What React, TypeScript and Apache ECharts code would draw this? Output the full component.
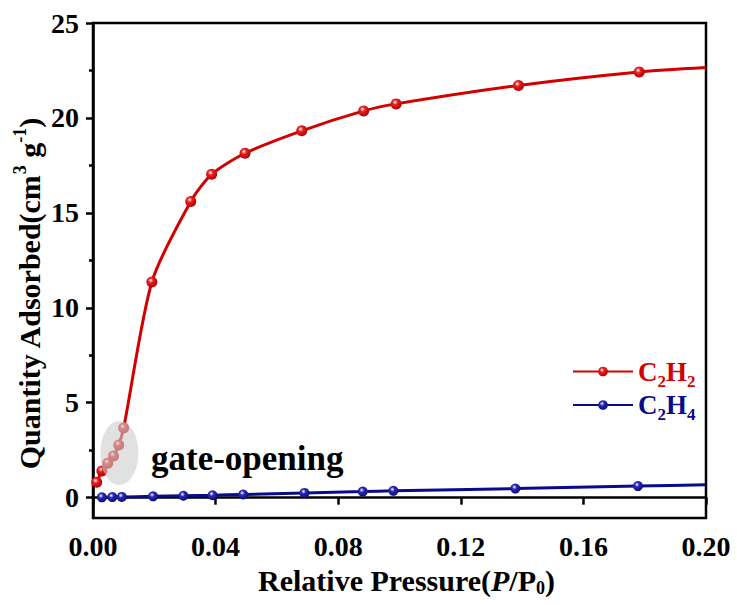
import React, { useEffect, useRef } from "react";
import * as echarts from "echarts";

const c2h2X = [0.0012, 0.0029, 0.0048, 0.0067, 0.0084, 0.0100, 0.0192, 0.0319, 0.0387, 0.0496, 0.0681, 0.0883, 0.0989, 0.1388, 0.1782, 0.2];
const c2h2Y = [0.81, 1.41, 1.82, 2.20, 2.78, 3.67, 11.36, 15.60, 17.03, 18.14, 19.32, 20.37, 20.74, 21.71, 22.42, 22.65];
const c2h4X = [0.0029, 0.0063, 0.0094, 0.0196, 0.0295, 0.0390, 0.0490, 0.0690, 0.0880, 0.0980, 0.1378, 0.1778, 0.2];
const c2h4Y = [0.02, 0.03, 0.04, 0.07, 0.10, 0.13, 0.17, 0.25, 0.32, 0.36, 0.48, 0.61, 0.68];
const yLabels = [0, 5, 10, 15, 20, 25];
const yMinorTicks = [2.5, 7.5, 12.5, 17.5, 22.5];

const RED = "#d40000";
const BLUE = "#0a0a8c";
const FONT = "'Liberation Serif', 'Times New Roman', serif";

function ball(base: string, edge: string) {
  return {
    type: "radial",
    x: 0.4,
    y: 0.35,
    r: 0.65,
    colorStops: [
      { offset: 0, color: "#ffffff" },
      { offset: 0.35, color: base },
      { offset: 1, color: edge },
    ],
  };
}

function toData(xs: number[], ys: number[]) {
  return xs.map((x, i) => {
    if (x >= 0.2) return { value: [x, ys[i]], symbol: "none" };
    return { value: [x, ys[i]] };
  });
}

export default function App() {
  const ref = useRef<HTMLDivElement>(null);
  useEffect(() => {
    if (!ref.current) return;
    const chart = echarts.init(ref.current, undefined, { renderer: "svg" });
    const base = { fontFamily: FONT, fontWeight: "bold" as const, color: "#000" };
    chart.setOption({
      animation: false,
      backgroundColor: "#fff",
      grid: {
        left: 93,
        right: 31,
        top: 23,
        bottom: 87,
        containLabel: false,
        outerBoundsMode: "none",
        show: true,
        borderColor: "#000",
        borderWidth: 2.5,
        backgroundColor: "transparent",
      },
      xAxis: {
        type: "value",
        min: 0,
        max: 0.2,
        interval: 0.04,
        axisLine: { show: true, lineStyle: { color: "#000", width: 2.5 } },
        axisTick: { show: true, inside: false, length: 7, lineStyle: { color: "#000", width: 2.5 } },
        splitLine: { show: false },
        axisLabel: {
          ...base,
          fontSize: 28,
          margin: 14,
          formatter: (v: number) => v.toFixed(2),
        },
        name: "{n|Relative Pressure(}{i|P}{n|/P}{s|0}{n|)}",
        nameLocation: "middle",
        nameGap: 45,
        nameTextStyle: {
          ...base,
          fontSize: 30,
          padding: [0, 0, 0, 14],
          rich: {
            n: { ...base, fontSize: 30, lineHeight: 34 },
            i: { ...base, fontSize: 30, fontStyle: "italic", lineHeight: 34 },
            s: { ...base, fontSize: 18, verticalAlign: "bottom", lineHeight: 15 },
          },
        },
      },
      yAxis: [
        {
          type: "value",
          min: -1.07,
          max: 25,
          axisLine: { show: true, lineStyle: { color: "#000", width: 2.5 } },
          axisTick: { show: true, inside: false, length: 7, customValues: yLabels, lineStyle: { color: "#000", width: 2.5 } },
          splitLine: { show: false },
          axisLabel: { ...base, fontSize: 28, margin: 14, customValues: yLabels },
        },
        {
          type: "value",
          min: -1.07,
          max: 25,
          position: "left",
          axisLine: { show: false },
          axisTick: { show: true, inside: false, length: 4, customValues: yMinorTicks, lineStyle: { color: "#000", width: 2.5 } },
          axisLabel: { show: false },
          splitLine: { show: false },
        },
      ],
      legend: {
        orient: "vertical",
        left: 567,
        top: 353,
        itemWidth: 60,
        itemHeight: 12,
        itemGap: 2,
        data: [{ name: "C2H2" }, { name: "C2H4" }],
        formatter: (name: string) =>
          name === "C2H2" ? "{r|C}{rs|2}{r|H}{rs|2}" : "{b|C}{bs|2}{b|H}{bs|4}",
        textStyle: {
          ...base,
          fontSize: 27,
          rich: {
            r: { ...base, color: RED, fontSize: 27, lineHeight: 36 },
            rs: { ...base, color: RED, fontSize: 17, verticalAlign: "bottom", lineHeight: 14 },
            b: { ...base, color: BLUE, fontSize: 27, lineHeight: 36 },
            bs: { ...base, color: BLUE, fontSize: 17, verticalAlign: "bottom", lineHeight: 14 },
          },
        },
      },
      series: [
        {
          name: "C2H4",
          type: "line",
          data: toData(c2h4X, c2h4Y),
          smooth: 0.2,
          symbol: "circle",
          symbolSize: 10,
          lineStyle: { color: BLUE, width: 3 },
          itemStyle: { color: ball("#2a2ab8", "#0a0a7a"), borderWidth: 0 },
          z: 3,
        },
        {
          name: "C2H2",
          type: "line",
          data: toData(c2h2X, c2h2Y),
          smooth: 0.25,
          symbol: "circle",
          symbolSize: 11,
          lineStyle: { color: RED, width: 3 },
          itemStyle: { color: ball("#e82020", "#b00000"), borderWidth: 0 },
          z: 4,
        },
      ],
    });
    const c = chart.convertToPixel({ xAxisIndex: 0, yAxisIndex: 0 }, [0.0086, 2.35]) as number[];
    chart.setOption({
      graphic: [
        {
          type: "ellipse",
          shape: { cx: c[0], cy: c[1], rx: 19, ry: 32 },
          style: { fill: "rgba(205,205,205,0.6)" },
          z: 100,
        },
        {
          type: "text",
          x: 151,
          y: 458,
          style: {
            text: "gate-opening",
            fill: "#000",
            font: `bold 35px ${FONT}`,
            verticalAlign: "middle",
            align: "left",
          },
          z: 100,
        },
        {
          type: "text",
          x: 29,
          y: 294,
          rotation: Math.PI / 2,
          style: {
            text: "{n|Quantity Adsorbed(cm}{s|3}{n| g}{s|-1}{n|)}",
            align: "center",
            verticalAlign: "middle",
            rich: {
              n: { ...base, fill: "#000", fontSize: 30, lineHeight: 36 },
              s: { ...base, fill: "#000", fontSize: 18, verticalAlign: "top", lineHeight: 16 },
            },
          },
          z: 100,
        },
      ],
    });
    return () => chart.dispose();
  }, []);
  return <div ref={ref} style={{ position: "fixed", left: 0, top: 0, width: 737, height: 605 }} />;
}
